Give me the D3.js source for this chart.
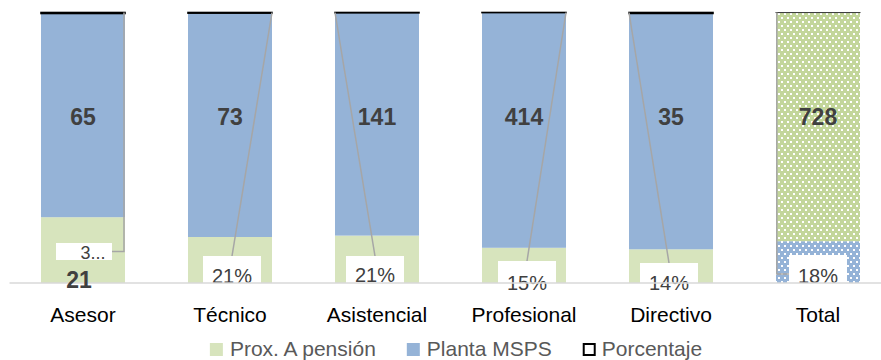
<!DOCTYPE html>
<html>
<head>
<meta charset="utf-8">
<script src="https://cdn.jsdelivr.net/npm/d3@7"></script>
<style>
  body { margin: 0; background: #fff; }
  svg { display: block; font-family: "Liberation Sans", Arial, sans-serif; }
</style>
</head>
<body>
<svg id="chart" width="881" height="360"></svg>
<script>
// Personnel near retirement vs. ministry staff, by level
const categories  = ["Asesor", "Técnico", "Asistencial", "Profesional", "Directivo", "Total"];
const proxPension = [21, 15, 30, 62, 5, 133];
const plantaMSPS  = [65, 73, 141, 414, 35, 728];
const porcentaje  = [0.32, 0.21, 0.21, 0.15, 0.14, 0.18];
const seriesNames = ["Prox. A pensión", "Planta MSPS", "Porcentaje"];

// Placement of the percentage callouts: nudge from bar centre, box top, box size,
// text baseline offset, leader style, and how many characters survive truncation
const callouts = [
  { dx: 1,  top: 243, w: 56, h: 17, ty: 16, leader: "elbow", side: "right", keep: 1 },
  { dx: 2,  top: 256, w: 58, h: 36, ty: 27, leader: "slant", side: "right" },
  { dx: -2, top: 256, w: 58, h: 36, ty: 26, leader: "slant", side: "left" },
  { dx: 3,  top: 261, w: 58, h: 36, ty: 29, leader: "slant", side: "right" },
  { dx: -2, top: 263, w: 58, h: 36, ty: 27, leader: "slant", side: "left" },
  { dx: 0,  top: 255, w: 58, h: 38, ty: 28, leader: "elbow", side: "left" }
];

const COL = {
  prox: "#d7e4bd",
  planta: "#95b3d7",
  totalPlanta: "#c3d69b",
  totalProx: "#95b3d7",
  label: "#404040",
  legend: "#595959",
  leader: "#a6a6a6",
  axis: "#d9d9d9"
};

const svg = d3.select("#chart");

// dotted fills used by the Total column
const defs = svg.append("defs");
function dotPattern(id, base) {
  const p = defs.append("pattern").attr("id", id)
    .attr("patternUnits", "userSpaceOnUse").attr("width", 6).attr("height", 8);
  p.append("rect").attr("width", 6).attr("height", 8).attr("fill", base);
  p.append("rect").attr("x", 1).attr("y", 1).attr("width", 2).attr("height", 2).attr("fill", "#fff");
  p.append("rect").attr("x", 4).attr("y", 5).attr("width", 2).attr("height", 2).attr("fill", "#fff");
}
dotPattern("dotGreen", COL.totalPlanta);
dotPattern("dotBlue", COL.totalProx);

const x = d3.scaleBand().domain(categories)
  .range([9.5, 891.5]).paddingInner(0.4286).paddingOuter(0.2143);
const y = d3.scaleLinear().domain([0, 1]).range([283, 12.5]);

const rows = categories.map((c, i) => ({
  cat: c, i, prox: proxPension[i], planta: plantaMSPS[i], pct: porcentaje[i]
}));
const layers = d3.stack().keys(["prox", "planta", "pct"]).offset(d3.stackOffsetExpand)(rows);

function fillFor(key, d) {
  const total = d.data.cat === "Total";
  if (key === "prox") return total ? "url(#dotBlue)" : COL.prox;
  if (key === "planta") return total ? "url(#dotGreen)" : COL.planta;
  return "none";
}

const gBars = svg.append("g");
layers.forEach(layer => {
  gBars.selectAll(null).data(layer).join("rect")
    .attr("x", d => x(d.data.cat))
    .attr("width", x.bandwidth())
    .attr("y", d => y(d[1]))
    .attr("height", d => Math.max(0, y(d[0]) - y(d[1])))
    .attr("fill", d => fillFor(layer.key, d))
    .attr("stroke", d => layer.key === "pct" ? (d.data.cat === "Total" ? "#404040" : "#000") : "none")
    .attr("stroke-width", d => layer.key === "pct" ? (d.data.cat === "Total" ? 1 : 1.6) : 0);
});

// Planta MSPS counts inside the upper segment
svg.append("g").selectAll("text").data(rows).join("text")
  .attr("x", d => x(d.cat) + x.bandwidth() / 2)
  .attr("y", y(0.615) + 8)
  .attr("text-anchor", "middle")
  .attr("font-size", 23).attr("font-weight", "bold")
  .attr("fill", COL.label)
  .text(d => d.planta);

// leader lines from the percentage callouts to the Porcentaje segment
const gLead = svg.append("g").attr("fill", "none")
  .attr("stroke", COL.leader).attr("stroke-width", 1.5);
rows.forEach((d, i) => {
  const c = callouts[i];
  const cx = x(d.cat) + x.bandwidth() / 2 + c.dx;
  const left = x(d.cat), right = x(d.cat) + x.bandwidth();
  const topY = y(1);
  let path;
  if (c.leader === "slant") {
    const ex = c.side === "right" ? right : left;
    path = `M${cx},${c.top}L${ex},${topY}`;
  } else {
    const midY = c.top + c.h / 2;
    if (c.side === "right") {
      path = `M${cx + c.w / 2},${midY}H${right - 1}V${topY}`;
    } else {
      path = `M${cx - c.w / 2},${midY}H${left + 0.8}V${topY}`;
    }
  }
  gLead.append("path").attr("d", path);
});

// callout boxes with the percentage values
const fmtPct = d3.format(".0%");
const gCall = svg.append("g");
rows.forEach((d, i) => {
  const c = callouts[i];
  const cx = x(d.cat) + x.bandwidth() / 2 + c.dx;
  gCall.append("rect")
    .attr("x", cx - c.w / 2).attr("y", c.top)
    .attr("width", c.w).attr("height", c.h).attr("fill", "#fff");
  let txt = fmtPct(d.pct);
  if (c.keep) txt = txt.slice(0, c.keep) + "...";
  gCall.append("text")
    .attr("x", c.keep ? cx + 9 : cx).attr("y", c.top + c.ty)
    .attr("text-anchor", "middle")
    .attr("font-size", c.keep ? 18 : 20)
    .attr("fill", COL.label)
    .text(txt);
});

// category axis line
svg.append("line")
  .attr("x1", x.range()[0]).attr("x2", x.range()[1])
  .attr("y1", y(0)).attr("y2", y(0))
  .attr("stroke", COL.axis).attr("stroke-width", 1.6);

// Prox. A pensión count shown for Asesor
svg.append("g").selectAll("text").data(rows.filter(d => d.cat === "Asesor")).join("text")
  .attr("x", d => x(d.cat) + x.bandwidth() / 2 - 4)
  .attr("y", 288)
  .attr("text-anchor", "middle")
  .attr("font-size", 23).attr("font-weight", "bold")
  .attr("fill", COL.label)
  .text(d => d.prox);

// category labels
svg.append("g").selectAll("text").data(categories).join("text")
  .attr("x", d => x(d) + x.bandwidth() / 2)
  .attr("y", 321.5)
  .attr("text-anchor", "middle")
  .attr("font-size", 21)
  .attr("fill", "#000")
  .text(d => d);

// legend
const legendSwatch = [
  { fill: COL.prox, stroke: "none" },
  { fill: COL.planta, stroke: "none" },
  { fill: "#fff", stroke: "#000" }
];
const gLeg = svg.append("g");
let lx = 0;
const items = seriesNames.map((name, i) => {
  const g = gLeg.append("g");
  const sw = legendSwatch[i];
  g.append("rect")
    .attr("x", sw.stroke === "none" ? 0 : 1).attr("y", sw.stroke === "none" ? -13 : -12)
    .attr("width", sw.stroke === "none" ? 13 : 11).attr("height", sw.stroke === "none" ? 13 : 11)
    .attr("fill", sw.fill).attr("stroke", sw.stroke).attr("stroke-width", 2);
  const t = g.append("text").attr("x", i === 2 ? 19 : 20).attr("y", 0)
    .attr("font-size", 21).attr("fill", COL.legend).text(name);
  const w = (i === 2 ? 19 : 20) + t.node().getComputedTextLength();
  g.attr("transform", `translate(${lx},0)`);
  lx += w + 31;
  return w;
});
const legendWidth = lx - 31;
gLeg.attr("transform", `translate(${456 - legendWidth / 2},356)`);
</script>
</body>
</html>
